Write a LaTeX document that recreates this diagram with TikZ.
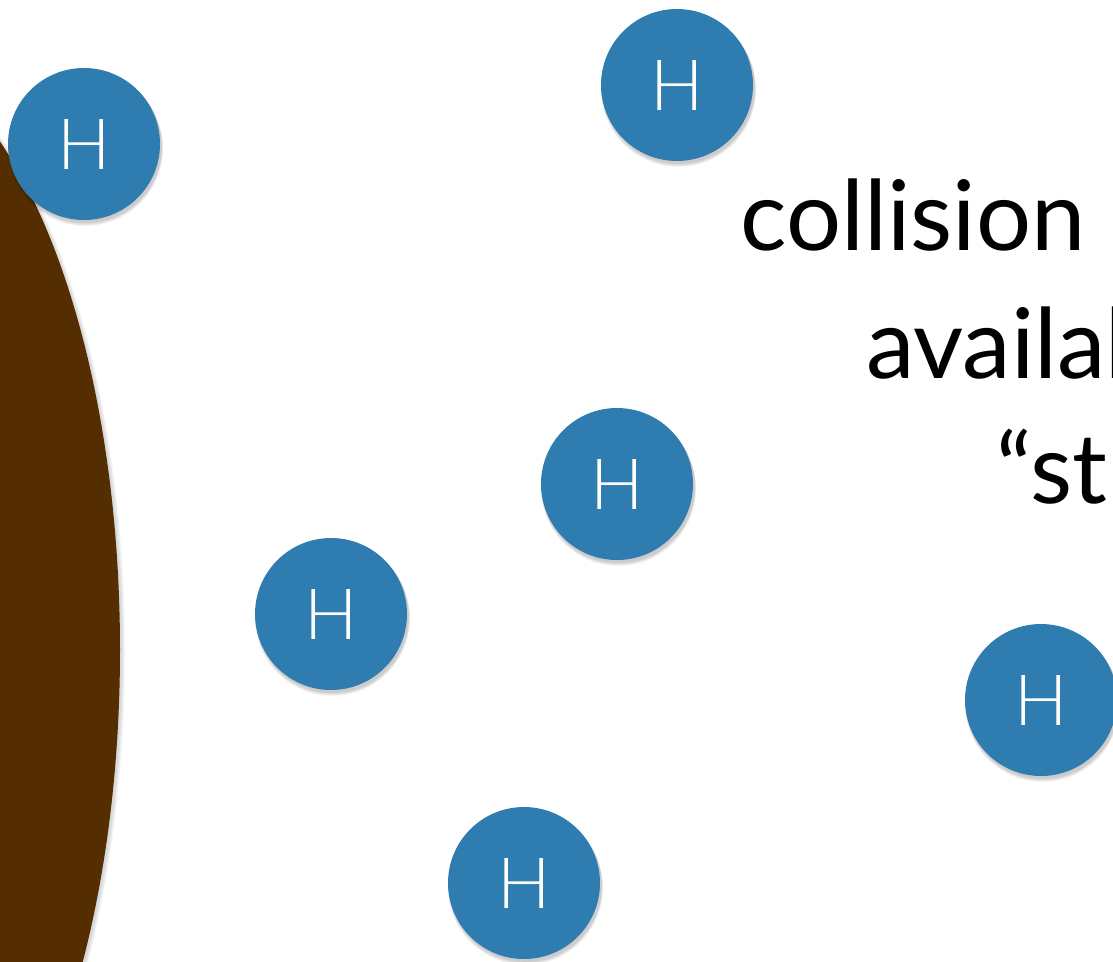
\documentclass[tikz,border=0pt]{standalone}
\usepackage{fontspec}
\setmainfont{Lato}
\newfontfamily\hfont{Lato Light}
\definecolor{hblue}{RGB}{47,124,176}
\definecolor{soil}{RGB}{84,46,0}
\tikzset{
  atom/.style={circle, fill=hblue, minimum size=114pt, inner sep=0pt, text=white, font=\hfont\fontsize{53}{53}\selectfont},
  big/.style={anchor=base west, inner sep=0pt, font=\fontsize{73}{73}\selectfont}
}
\newcommand{\atomshadow}[2]{%
  \foreach \k in {1,...,5} {
    \fill[black, opacity=0.045] ({#1+1.5},{#2+2+0.5*\k}) circle ({76+0.3*\k});
  }}
\begin{document}
\begin{tikzpicture}[x=0.75pt, y=-0.75pt]
\useasboundingbox (0,0) rectangle (1113,961);
\clip (0,0) rectangle (1113,961);
% soil edge shadow
\foreach \k in {1,...,4} {
  \fill[black, opacity=0.04] ({-136+1+\k},652) ellipse ({256} and {600});
}
\fill[soil] (-136,650) ellipse ({256} and {600});
% shadows of atoms
\atomshadow{84}{144}
\atomshadow{677}{85}
\atomshadow{617}{484}
\atomshadow{331}{614}
\atomshadow{1041}{700}
\atomshadow{524}{883}
\node[atom] (h1) at (84,144) {H};
\node[atom] (h2) at (677,85) {H};
\node[atom] (h3) at (617,484) {H};
\node[atom] (h4) at (331,614) {H};
\node[atom] (h5) at (1041,700) {H};
\node[atom] (h6) at (524,883) {H};
\node[big] (t1) at (740,250) {collision};
\node[big] (t2) at (866,378) {availab};
\node[big] (t3) at (996,503) {“st};
\end{tikzpicture}
\end{document}
